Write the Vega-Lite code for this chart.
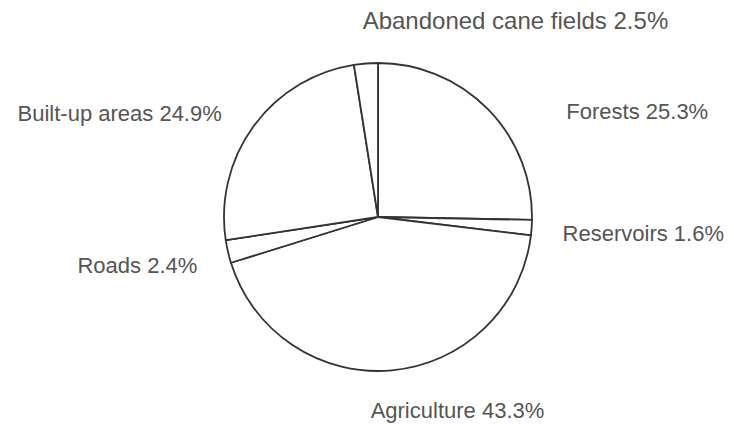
{
  "$schema": "https://vega.github.io/schema/vega-lite/v6.json",
  "width": 712,
  "height": 414,
  "autosize": {"type": "none"},
  "padding": {"left": 22, "top": 10, "right": 0, "bottom": 0},
  "background": "white",
  "config": {"view": {"stroke": null}, "text": {"font": "Liberation Sans", "fontSize": 22, "fill": "#555555", "baseline": "middle"}},
  "data": {"values": [
    {"category": "Forests", "value": 25.3, "rank": 1, "label": "Forests 25.3%"},
    {"category": "Reservoirs", "value": 1.6, "rank": 2, "label": "Reservoirs 1.6%"},
    {"category": "Agriculture", "value": 43.3, "rank": 3, "label": "Agriculture 43.3%"},
    {"category": "Roads", "value": 2.4, "rank": 4, "label": "Roads 2.4%"},
    {"category": "Built-up areas", "value": 24.9, "rank": 5, "label": "Built-up areas 24.9%"},
    {"category": "Abandoned cane fields", "value": 2.5, "rank": 6, "label": "Abandoned cane fields 2.5%"}
  ]},
  "encoding": {
    "theta": {"field": "value", "type": "quantitative", "stack": true},
    "order": {"field": "rank", "type": "quantitative"}
  },
  "layer": [
    {"mark": {"type": "arc", "outerRadius": 154, "fill": "white", "stroke": "#333333", "strokeWidth": 1.8}},
    {"mark": {"type": "text", "radius": 170, "align": "left", "dx": 67, "dy": 14},
     "encoding": {"text": {"condition": {"test": "datum.category === 'Forests'", "field": "label", "type": "nominal"}, "value": ""}}},
    {"mark": {"type": "text", "radius": 170, "align": "left", "dx": 15, "dy": 5},
     "encoding": {"text": {"condition": {"test": "datum.category === 'Reservoirs'", "field": "label", "type": "nominal"}, "value": ""}}},
    {"mark": {"type": "text", "radius": 170, "align": "center", "dx": 64, "dy": 25},
     "encoding": {"text": {"condition": {"test": "datum.category === 'Agriculture'", "field": "label", "type": "nominal"}, "value": ""}}},
    {"mark": {"type": "text", "radius": 170, "align": "right", "dx": -15, "dy": 11},
     "encoding": {"text": {"condition": {"test": "datum.category === 'Roads'", "field": "label", "type": "nominal"}, "value": ""}}},
    {"mark": {"type": "text", "radius": 170, "align": "right", "dx": -19, "dy": -3},
     "encoding": {"text": {"condition": {"test": "datum.category === 'Built-up areas'", "field": "label", "type": "nominal"}, "value": ""}}},
    {"mark": {"type": "text", "radius": 170, "align": "left", "dx": -2, "dy": -26, "fontSize": 24},
     "encoding": {"text": {"condition": {"test": "datum.category === 'Abandoned cane fields'", "field": "label", "type": "nominal"}, "value": ""}}}
  ]
}
